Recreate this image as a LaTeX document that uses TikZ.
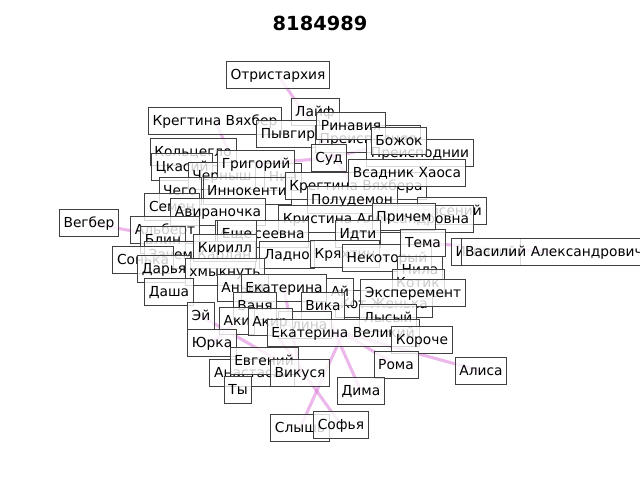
\documentclass[tikz,border=0pt]{standalone}
\usepackage{fontspec}
\setmainfont{DejaVu Sans}
\usetikzlibrary{backgrounds}
\definecolor{EdgePink}{RGB}{218,112,214}
\definecolor{BoxLine}{RGB}{64,64,64}

\begin{document}
\begin{tikzpicture}[x=0.025cm, y=-0.025cm,
    lbl/.style={draw=BoxLine, line width=0.6pt, rectangle, fill=white, fill opacity=0.8, text opacity=1,
                inner xsep=3pt, inner ysep=3.8pt, text height=9.2pt, text depth=2.6pt, font=\fontsize{9.8}{11}\selectfont},
    edge/.style={draw=EdgePink, line width=2.2pt, draw opacity=0.5}]
    \useasboundingbox (0,0) rectangle (640,480);
    \node[font=\fontsize{13.8}{16}\selectfont\bfseries] (title) at (320,23) {8184989};

    % labels, back to front
    \node[lbl] (otr) at (278,75) {Отристархия};
    \node[lbl] (kregv) at (215,121) {Крегтина Вяхбер};
    \node[lbl] (lajf) at (315,112) {Лайф};
    \node[lbl] (pyv) at (288,134) {Пывгир};
    \node[lbl] (prisp) at (368,139) {Преисподняя};
    \node[lbl] (rin) at (351,126) {Ринавия};
    \node[lbl] (prisp2) at (420,153) {Преисподнии};
    \node[lbl] (bozh) at (399,141) {Божок};
    \node[lbl] (kolc) at (193,152) {Кольцегло};
    \node[lbl] (ckas) at (182,167) {Цкасий};
    \node[lbl] (sud) at (329,158) {Суд};
    \node[lbl] (chern) at (222,176) {Черныш};
    \node[lbl] (nil) at (283,177) {Нил};
    \node[lbl] (grig) at (256,164) {Григорий};
    \node[lbl] (innok) at (247,191) {Иннокенти};
    \node[lbl] (chego) at (180,191) {Чего};
    \node[lbl] (kregv2) at (356,186) {Крегтина Вяхбера};
    \node[lbl] (vsad) at (407,173) {Всадник Хаоса};
    \node[lbl] (polud) at (352,200) {Полудемон};
    \node[lbl] (semen) at (172,207) {Семен};
    \node[lbl] (avir) at (218,212) {Авираночка};
    \node[lbl] (evs) at (452,211) {Евсений};
    \node[lbl] (vegb) at (89,223) {Вегбер};
    \node[lbl] (alb) at (165,230) {Альберт};
    \node[lbl] (krist) at (376,219) {Кристина Александровна};
    \node[lbl] (prich) at (404,217) {Причем};
    \node[lbl] (alex) at (262,234) {Алексеевна};
    \node[lbl] (esche) at (237,234) {Еще};
    \node[lbl] (idti) at (358,234) {Идти};
    \node[lbl] (blin) at (163,240) {Блин};
    \node[lbl] (zach) at (200,255) {Зачем Кардан};
    \node[lbl] (kir) at (225,248) {Кирилл};
    \node[lbl] (ladno) at (287,255) {Ладно};
    \node[lbl] (kryah) at (345,254) {Кряхтин};
    \node[lbl] (nekot) at (387,258) {Некоторый};
    \node[lbl] (tema) at (423,243) {Тема};
    \node[lbl] (ign) at (486,252) {Игнатий};
    \node[lbl] (vas) at (554,252) {Василий Александрович};
    \node[lbl] (sonka) at (143,260) {Сонька};
    \node[lbl] (darya) at (164,269) {Дарья};
    \node[lbl] (hmyk) at (225,272) {хмыкнуть};
    \node[lbl] (nila) at (420,270) {Нила};
    \node[lbl] (kotik) at (418,283) {Котик};
    \node[lbl] (anka) at (243,288) {Анька};
    \node[lbl] (ekat) at (284,288) {Екатерина};
    \node[lbl] (dasha) at (169,292) {Даша};
    \node[lbl] (kotzh) at (384,304) {Кот Женька};
    \node[lbl] (aj) at (340,292) {Ай};
    \node[lbl] (eksp) at (413,293) {Эксперемент};
    \node[lbl] (vanya) at (255,306) {Ваня};
    \node[lbl] (vika) at (323,306) {Вика};
    \node[lbl] (lysy) at (388,318) {Лысый};
    \node[lbl] (ej) at (201,316) {Эй};
    \node[lbl] (alina) at (305,325) {Алина};
    \node[lbl] (aki) at (237,321) {Аки};
    \node[lbl] (akir) at (270,322) {Акир};
    \node[lbl] (ekatv) at (343,333) {Екатерина Великий};
    \node[lbl] (koroche) at (422,340) {Короче};
    \node[lbl] (yurka) at (212,343) {Юрка};
    \node[lbl] (ana) at (252,373) {Анастасия};
    \node[lbl] (evg) at (264,361) {Евгений};
    \node[lbl] (vik) at (300,373) {Викуся};
    \node[lbl] (roma) at (396,365) {Рома};
    \node[lbl] (alisa) at (481,371) {Алиса};
    \node[lbl] (ty) at (238,390) {Ты};
    \node[lbl] (dima) at (361,391) {Дима};
    \node[lbl] (slysh) at (300,428) {Слышь};
    \node[lbl] (sofya) at (341,425) {Софья};

    % connections, behind the labels
    \begin{scope}[on background layer]
        \draw[edge] (otr.center) -- (krist.center);
        \draw[edge] (kregv.center) -- (innok.center);
        \draw[edge] (rin.center) -- (sud.center);
        \draw[edge] (bozh.center) -- (sud.center);
        \draw[edge] (grig.center) -- (sud.center);
        \draw[edge] (vegb.center) -- (kir.center);
        \draw[edge] (vas.center) -- (tema.center);
        \draw[edge] (slysh.center) -- (ekatv.center);
        \draw[edge] (sofya.center) -- (anka.center);
        \draw[edge] (dima.center) -- (vika.center);
        \draw[edge] (alisa.center) -- (ekatv.center);
        \draw[edge] (roma.center) -- (ekatv.center);
        \draw[edge] (ty.center) -- (evg.center);
        \draw[edge] (yurka.center) -- (aki.center);
        \draw[edge] (vik.center) -- (ekat.center);
        \draw[edge] (ej.center) -- (vik.center);
    \end{scope}
\end{tikzpicture}
\end{document}
